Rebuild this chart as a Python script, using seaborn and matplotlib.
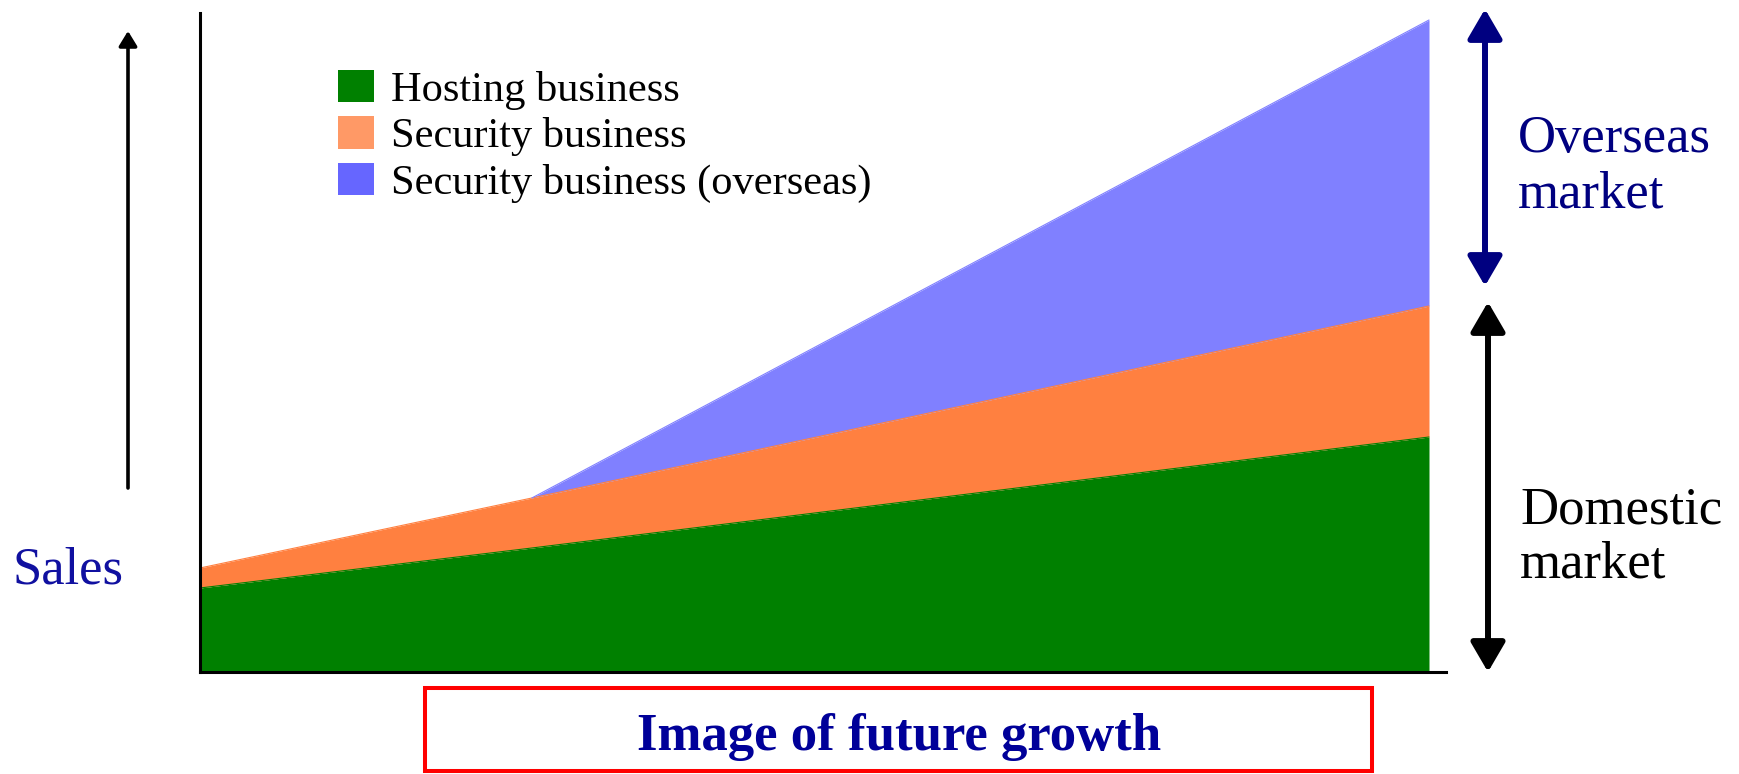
import pandas as pd
import numpy as np
import seaborn as sns
import matplotlib.pyplot as plt
import matplotlib.patches as mpatches

W, H = 1740, 774

# relative position on the time line (start, overseas launch, end of plan)
period = [0.0, 0.27, 1.0]
# sales of each business (arbitrary units, stacked)
hosting = [84, 124, 235]
security = [20, 50, 131]
security_overseas = [0, 0, 286]

labels = ["Hosting business", "Security business", "Security business (overseas)"]
area_colors = ["#008000", "#FF8040", "#8080FF"]
legend_colors = ["#008000", "#FF9966", "#6666FF"]

df = pd.DataFrame({"period": period, "hosting": hosting,
                   "security": security, "overseas": security_overseas})
df["top_hosting"] = df["hosting"]
df["top_security"] = df["top_hosting"] + df["security"]
df["top_overseas"] = df["top_security"] + df["overseas"]
df_over = df[df["period"] >= 0.27]


def fx(px):
    return px / W


def fy(py):
    return 1 - py / H


sns.set_theme(style="white")
plt.rcParams["font.family"] = ["Liberation Serif", "DejaVu Serif"]
plt.rcParams["text.color"] = "black"

fig = plt.figure(figsize=(W / 100, H / 100), dpi=100)
ax = fig.add_axes([fx(200), fy(672), 1246 / W, 659 / H])

# stacked areas
ax.fill_between(df["period"], 0, df["top_hosting"], color=area_colors[0], lw=0)
ax.fill_between(df["period"], df["top_hosting"], df["top_security"], color=area_colors[1], lw=0)
ax.fill_between(df_over["period"], df_over["top_security"], df_over["top_overseas"],
                color=area_colors[2], lw=0)
sns.lineplot(data=df, x="period", y="top_hosting", color=area_colors[0], lw=0.8, ax=ax)
sns.lineplot(data=df, x="period", y="top_security", color=area_colors[1], lw=0.8, ax=ax)
sns.lineplot(data=df_over, x="period", y="top_overseas", color=area_colors[2], lw=0.8, ax=ax)

ax.set_xlim(0, 1246 / 1229)
ax.set_ylim(0, 659)
ax.set_xticks([])
ax.set_yticks([])
ax.set_xlabel("")
ax.set_ylabel("")
sns.despine(ax=ax)
for side in ["left", "bottom"]:
    ax.spines[side].set_color("black")
    ax.spines[side].set_linewidth(2.2)

# legend
handles = [mpatches.Patch(facecolor=c, edgecolor="none", label=l)
           for c, l in zip(legend_colors, labels)]
fig.legend(handles=handles, loc="upper left", bbox_to_anchor=(fx(338), fy(70)),
           frameon=False, fontsize=30.5, borderpad=0, borderaxespad=0, labelcolor="black",
           handlelength=0.85, handleheight=0.8, handletextpad=0.4, labelspacing=0.15)

# arrows
sales_arrow = mpatches.FancyArrowPatch(
    (fx(128), fy(488)), (fx(128), fy(31)), transform=fig.transFigure,
    arrowstyle=mpatches.ArrowStyle("-|>", head_length=9, head_width=5.5),
    color="black", lw=2.6, shrinkA=0, shrinkB=0)
overseas_arrow = mpatches.FancyArrowPatch(
    (fx(1485), fy(286)), (fx(1485), fy(9)), transform=fig.transFigure,
    arrowstyle=mpatches.ArrowStyle("<|-|>", head_length=18, head_width=10.5),
    color="#000080", lw=4.3, shrinkA=0, shrinkB=0)
domestic_arrow = mpatches.FancyArrowPatch(
    (fx(1488), fy(672)), (fx(1488), fy(302)), transform=fig.transFigure,
    arrowstyle=mpatches.ArrowStyle("<|-|>", head_length=18, head_width=10.5),
    color="black", lw=4.3, shrinkA=0, shrinkB=0)
for a in [sales_arrow, overseas_arrow, domestic_arrow]:
    fig.add_artist(a)

# texts
fig.text(fx(13), fy(583), "Sales", fontsize=38, color="#1010A0", va="baseline", ha="left")
fig.text(fx(1518), fy(152), "Overseas", fontsize=38, color="#000080", va="baseline", ha="left")
fig.text(fx(1518), fy(208), "market", fontsize=38, color="#000080", va="baseline", ha="left")
fig.text(fx(1520), fy(523), "Domestic", fontsize=38, color="black", va="baseline", ha="left")
fig.text(fx(1520), fy(577), "market", fontsize=38, color="black", va="baseline", ha="left")

box = mpatches.Rectangle((fx(425), fy(771)), (1372 - 425) / W, (771 - 688) / H,
                         transform=fig.transFigure, fill=False, edgecolor="#FF0000", lw=2.9)
fig.add_artist(box)
fig.text(fx(899), fy(750), "Image of future growth", fontsize=38, fontweight="bold",
         color="#000099", va="baseline", ha="center")

fig.savefig("out.png", dpi=100)
